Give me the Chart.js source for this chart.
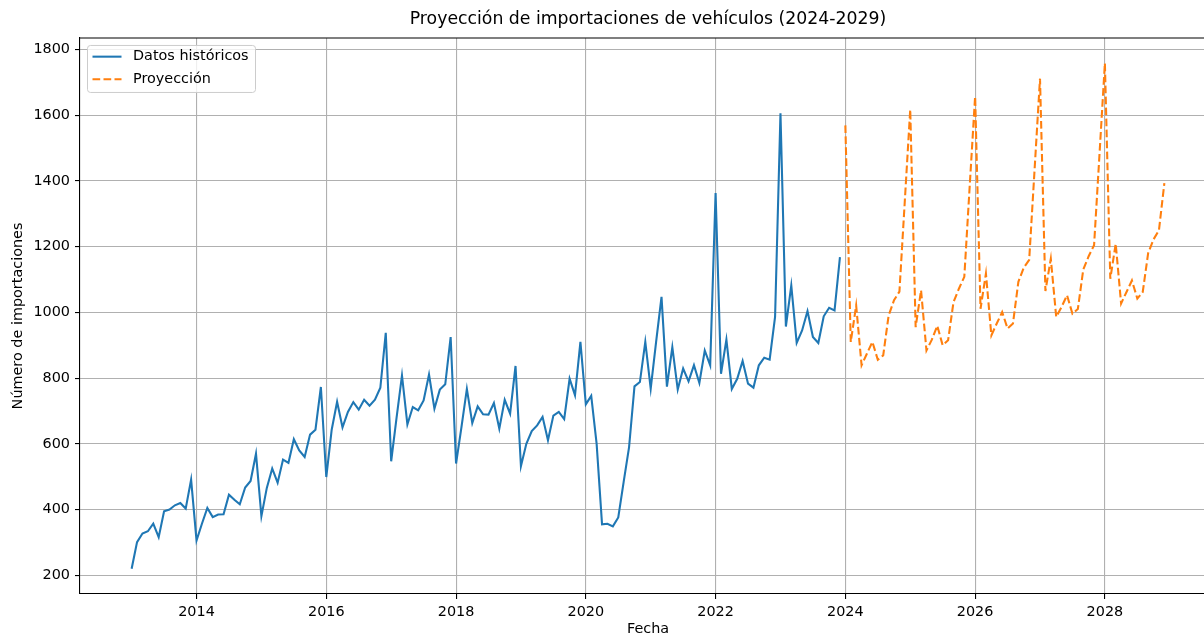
<!DOCTYPE html>
<html>
<head>
<meta charset="utf-8">
<script src="https://cdn.jsdelivr.net/npm/chart.js"></script>
<style>
  html, body { margin: 0; padding: 0; background: #fff; overflow: hidden; }
  canvas { display: block; }
</style>
</head>
<body>
<canvas id="chart" width="1216" height="660"></canvas>
<script>
  // datos mensuales: historico desde ene 2013, proyeccion desde ene 2024
  var inicioHist = 2013;
  var inicioProy = 2024;

  var historico = [
    220, 301, 327, 334, 357, 316, 395, 400, 413, 420, 403, 491,
    306, 357, 405, 377, 385, 386, 445, 430, 416, 467, 487, 570,
    380, 466, 525, 482, 552, 542, 614, 580, 560, 628, 643, 773,
    499, 643, 728, 650, 697, 727, 704, 734, 716, 734, 771, 938,
    547, 680, 808, 659, 712, 702, 732, 811, 707, 765, 781, 925,
    540, 651, 767, 663, 714, 690, 689, 724, 646, 734, 692, 837,
    532, 600, 639, 656, 682, 611, 686, 697, 675, 798, 748, 910,
    720, 746, 600, 355, 357, 349, 376, 484, 590, 775, 788, 910,
    768, 910, 1047, 774, 894, 765, 829, 790, 839, 785, 884, 839,
    1363, 813, 917, 767, 798, 852, 783, 771, 839, 862, 856, 986,
    1606, 957, 1082, 907, 945, 1004, 925, 907, 988, 1014, 1006, 1168
  ];

  var proyeccion = [
    1569, 910, 1021, 839, 875, 910, 856, 869, 990, 1037, 1063, 1340,
    1617, 955, 1067, 884, 917, 959, 900, 915, 1031, 1072, 1108, 1385,
    1657, 1011, 1118, 930, 966, 1001, 951, 966, 1093, 1136, 1160, 1435,
    1711, 1065, 1163, 986, 1017, 1052, 996, 1010, 1130, 1171, 1204, 1480,
    1758, 1102, 1209, 1027, 1062, 1097, 1042, 1062, 1180, 1222, 1250, 1393
  ];

  var aniosTicks = [2014, 2016, 2018, 2020, 2022, 2024, 2026, 2028];
  var valoresTicks = [200, 400, 600, 800, 1000, 1200, 1400, 1600, 1800];

  function aPuntos(valores, inicio) {
    return valores.map(function (v, i) {
      return { x: inicio + i / 12, y: v };
    });
  }

  var ptsHist = aPuntos(historico, inicioHist);
  var ptsProy = aPuntos(proyeccion, inicioProy);

  // margenes de 5% como matplotlib
  var todos = ptsHist.concat(ptsProy);
  var xs = todos.map(function (p) { return p.x; });
  var ys = todos.map(function (p) { return p.y; });
  var xMin = Math.min.apply(null, xs), xMax = Math.max.apply(null, xs);
  var yMin = Math.min.apply(null, ys), yMax = Math.max.apply(null, ys);
  var mx = (xMax - xMin) * 0.05, my = (yMax - yMin) * 0.05;

  Chart.defaults.font.family = '"DejaVu Sans", sans-serif';
  Chart.defaults.color = "#000";

  var fuente = { family: '"DejaVu Sans", sans-serif', size: 14.4 };

  var marco = {
    id: "marco",
    afterDatasetsDraw: function (chart) {
      var a = chart.chartArea;
      var ctx = chart.ctx;
      ctx.save();
      ctx.strokeStyle = "#000";
      ctx.lineWidth = 1.1;
      ctx.beginPath();
      ctx.moveTo(a.left, a.top);
      ctx.lineTo(a.right, a.top);
      ctx.lineTo(a.right, a.bottom);
      ctx.stroke();
      ctx.restore();
    },
  };

  var leyenda = {
    id: "leyenda",
    afterDraw: function (chart) {
      var a = chart.chartArea;
      var ctx = chart.ctx;
      var x0 = a.left + 7.5, y0 = a.top + 7.5;
      ctx.save();
      ctx.beginPath();
      ctx.roundRect(x0, y0, 168, 47, 3);
      ctx.fillStyle = "rgba(255,255,255,0.8)";
      ctx.fill();
      ctx.strokeStyle = "#cccccc";
      ctx.lineWidth = 1;
      ctx.stroke();
      chart.data.datasets.forEach(function (ds, i) {
        var y = y0 + 11.2 + i * 22.6;
        ctx.beginPath();
        ctx.setLineDash(ds.borderDash || []);
        ctx.strokeStyle = ds.borderColor;
        ctx.lineWidth = ds.borderWidth;
        ctx.moveTo(x0 + 5, y);
        ctx.lineTo(x0 + 34, y);
        ctx.stroke();
        ctx.setLineDash([]);
        ctx.fillStyle = "#000";
        ctx.font = '14.4px "DejaVu Sans"';
        ctx.textBaseline = "middle";
        ctx.fillText(ds.label, x0 + 45.5, y);
      });
      ctx.restore();
    },
  };

  var ctx = document.getElementById("chart").getContext("2d");

  var myChart = new Chart(ctx, {
    type: "line",
    data: {
      datasets: [
        {
          label: "Datos históricos",
          data: ptsHist,
          borderColor: "#1f77b4",
          borderWidth: 2.08,
          pointRadius: 0,
          tension: 0,
          fill: false,
        },
        {
          label: "Proyección",
          data: ptsProy,
          borderColor: "#ff7f0e",
          borderWidth: 2.08,
          borderDash: [7.7, 3.3],
          pointRadius: 0,
          tension: 0,
          fill: false,
        },
      ],
    },
    options: {
      responsive: false,
      animation: false,
      devicePixelRatio: 1,
      layout: { padding: 0 },
      plugins: {
        legend: { display: false },
        tooltip: { enabled: false },
        title: {
          display: true,
          text: "Proyección de importaciones de vehículos (2024-2029)",
          fullSize: false,
          color: "#000",
          font: { family: '"DejaVu Sans", sans-serif', size: 17.3, weight: "normal" },
          padding: { top: 9.5, bottom: 7.7 },
        },
      },
      scales: {
        x: {
          type: "linear",
          min: xMin - mx,
          max: xMax + mx,
          afterBuildTicks: function (s) {
            s.ticks = aniosTicks.map(function (v) { return { value: v }; });
          },
          afterFit: function (s) { s.height = 66; },
          ticks: {
            callback: function (v) { return String(v); },
            font: fuente,
            color: "#000",
            padding: 4.5,
            maxRotation: 0,
            autoSkip: false,
          },
          grid: { color: "#b0b0b0", lineWidth: 1.1, tickColor: "#000", tickLength: 5, tickWidth: 1.1 },
          border: { color: "#000", width: 1.1 },
          title: { display: true, text: "Fecha", font: fuente, color: "#000", padding: { top: 0, bottom: 22.5 } },
        },
        y: {
          min: yMin - my,
          max: yMax + my,
          afterBuildTicks: function (s) {
            s.ticks = valoresTicks.map(function (v) { return { value: v }; });
          },
          afterFit: function (s) { s.width = 80; },
          ticks: {
            callback: function (v) { return String(v); },
            font: fuente,
            color: "#000",
            padding: 5,
          },
          grid: { color: "#b0b0b0", lineWidth: 1.1, tickColor: "#000", tickLength: 5, tickWidth: 1.1 },
          border: { color: "#000", width: 1.1 },
          title: { display: true, text: "Número de importaciones", font: fuente, color: "#000", padding: { top: 9.2, bottom: 0 } },
        },
      },
    },
    plugins: [marco, leyenda],
  });
</script>
</body>
</html>
